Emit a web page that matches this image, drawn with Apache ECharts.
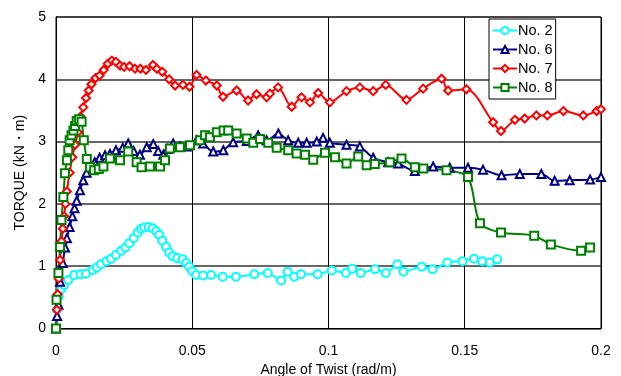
<!DOCTYPE html>
<html>
<head>
<meta charset="utf-8">
<script src="https://cdn.jsdelivr.net/npm/echarts@6/dist/echarts.min.js"></script>
<style>html,body{margin:0;padding:0;background:#fff}#c{width:621px;height:376px}</style>
</head>
<body>
<div id="c"></div>
<script>
const xTicks = [0, 0.05, 0.1, 0.15, 0.2];
const yTicks = [0, 1, 2, 3, 4, 5];
const seriesNames = ['No. 2', 'No. 6', 'No. 7', 'No. 8'];

const no2 = [[0,0],[0.0004,0.3],[0.001,0.52],[0.002,0.64],[0.003,0.7],[0.0045,0.78],[0.0067,0.86],[0.009,0.87],[0.011,0.88],[0.0135,0.94],[0.015,0.98],[0.0165,1.03],[0.0185,1.08],[0.0202,1.12],[0.022,1.18],[0.0239,1.25],[0.0255,1.3],[0.0269,1.37],[0.0285,1.45],[0.03,1.54],[0.0312,1.6],[0.0324,1.62],[0.034,1.63],[0.0355,1.61],[0.0368,1.56],[0.0379,1.50],[0.039,1.41],[0.0404,1.31],[0.0415,1.22],[0.0428,1.16],[0.0445,1.13],[0.0465,1.11],[0.0478,1.05],[0.0489,0.99],[0.05,0.92],[0.0514,0.86],[0.054,0.85],[0.0569,0.86],[0.0612,0.83],[0.066,0.83],[0.0728,0.87],[0.0777,0.89],[0.0826,0.77],[0.085,0.91],[0.0874,0.83],[0.0899,0.87],[0.096,0.87],[0.1012,0.93],[0.1064,0.89],[0.1087,0.96],[0.1118,0.89],[0.1171,0.95],[0.121,0.89],[0.1253,1.03],[0.1275,0.91],[0.1342,0.99],[0.1382,0.95],[0.1436,1.06],[0.1492,1.08],[0.1534,1.12],[0.1564,1.08],[0.1592,1.06],[0.1619,1.11]];

const no6 = [[0,0],[0.0004,0.2],[0.0009,0.38],[0.0015,0.75],[0.0025,1.05],[0.0033,1.3],[0.004,1.45],[0.005,1.63],[0.006,1.8],[0.0068,1.93],[0.0076,2.05],[0.0088,2.22],[0.01,2.38],[0.0112,2.5],[0.0125,2.59],[0.0142,2.67],[0.016,2.74],[0.018,2.78],[0.0198,2.8],[0.022,2.86],[0.0245,2.9],[0.0265,2.97],[0.0285,2.85],[0.0308,2.79],[0.0333,2.91],[0.0357,2.96],[0.0375,2.85],[0.0394,2.79],[0.041,2.88],[0.043,2.97],[0.0455,2.92],[0.048,2.92],[0.0516,3.02],[0.054,2.97],[0.0577,2.84],[0.0614,2.86],[0.065,2.99],[0.07,3.01],[0.0742,3.10],[0.0773,3.02],[0.0816,3.13],[0.0852,3.02],[0.0889,2.98],[0.092,2.98],[0.0957,3.0],[0.098,3.06],[0.1005,2.98],[0.1066,2.95],[0.1115,2.92],[0.1164,2.74],[0.1219,2.67],[0.1256,2.65],[0.1317,2.53],[0.1384,2.60],[0.1445,2.58],[0.1512,2.58],[0.1567,2.55],[0.1635,2.46],[0.1702,2.48],[0.1781,2.48],[0.183,2.37],[0.1885,2.38],[0.196,2.39],[0.2,2.43]];

const no7 = [[0,0],[0.0003,0.3],[0.0006,0.55],[0.001,0.8],[0.0015,1.1],[0.002,1.4],[0.0025,1.6],[0.003,1.8],[0.0035,2.0],[0.004,2.2],[0.005,2.5],[0.006,2.75],[0.007,2.95],[0.008,3.15],[0.009,3.4],[0.01,3.55],[0.011,3.7],[0.012,3.82],[0.013,3.92],[0.0145,4.02],[0.016,4.06],[0.0175,4.15],[0.019,4.25],[0.0205,4.30],[0.022,4.28],[0.0235,4.22],[0.025,4.2],[0.027,4.21],[0.029,4.17],[0.031,4.17],[0.033,4.15],[0.0356,4.23],[0.037,4.17],[0.039,4.12],[0.0415,4.0],[0.0437,3.90],[0.0466,3.91],[0.049,3.88],[0.0516,4.07],[0.055,3.98],[0.059,3.90],[0.0613,3.72],[0.0663,3.82],[0.0705,3.66],[0.0736,3.76],[0.0773,3.71],[0.0785,3.77],[0.0815,3.87],[0.0865,3.56],[0.0901,3.71],[0.0932,3.63],[0.0962,3.78],[0.1005,3.63],[0.1066,3.81],[0.1115,3.87],[0.1164,3.81],[0.121,3.91],[0.1286,3.67],[0.1347,3.85],[0.1415,4.01],[0.1439,3.82],[0.1506,3.84],[0.1604,3.31],[0.1633,3.17],[0.1684,3.35],[0.172,3.37],[0.1763,3.42],[0.1803,3.42],[0.1862,3.49],[0.1935,3.42],[0.1984,3.49],[0.2,3.52]];

const no8 = [[0,0],[0.0002,0.46],[0.0009,0.89],[0.0015,1.31],[0.002,1.74],[0.0027,2.11],[0.0033,2.49],[0.004,2.7],[0.0045,2.86],[0.005,3.02],[0.0057,3.1],[0.0064,3.18],[0.007,3.25],[0.0076,3.33],[0.0085,3.36],[0.0094,3.32],[0.0102,3.02],[0.0113,2.72],[0.0125,2.59],[0.014,2.54],[0.0157,2.56],[0.0174,2.6],[0.0198,2.73],[0.0235,2.70],[0.0265,2.84],[0.0296,2.67],[0.0314,2.59],[0.0345,2.6],[0.0382,2.6],[0.04,2.70],[0.0418,2.89],[0.0455,2.91],[0.0492,2.94],[0.0528,3.02],[0.0547,3.10],[0.0565,3.07],[0.059,3.15],[0.0615,3.18],[0.0632,3.18],[0.0663,3.13],[0.07,3.05],[0.0724,2.98],[0.0749,3.04],[0.0779,2.98],[0.081,2.90],[0.0852,2.86],[0.0883,2.81],[0.0914,2.79],[0.0944,2.71],[0.0987,2.82],[0.1024,2.75],[0.1066,2.65],[0.1109,2.76],[0.114,2.62],[0.117,2.64],[0.1225,2.67],[0.1268,2.73],[0.1317,2.59],[0.1348,2.57],[0.1433,2.54],[0.1512,2.43],[0.1556,1.69],[0.1633,1.54],[0.1755,1.49],[0.1816,1.35],[0.1927,1.25],[0.196,1.30]];

const colors = ['#00FFFF', '#000080', '#FF0000', '#008000'];
const symbols = ['emptyCircle', 'emptyTriangle', 'emptyDiamond', 'emptyRect'];
const datasets = [no2, no6, no7, no8];

const chart = echarts.init(document.getElementById('c'), null, {renderer: 'canvas'});
const font = 'Liberation Sans, Arial, sans-serif';
chart.setOption({
  animation: false,
  backgroundColor: '#fff',
  grid: {left: 56, right: 20, top: 17, bottom: 47.5, show: true, borderColor: '#000', borderWidth: 1, backgroundColor: '#fff', containLabel: false, outerBoundsMode: 'none'},
  legend: {
    orient: 'vertical', left: 489, top: 19,
    data: seriesNames,
    backgroundColor: '#fff', borderColor: '#000', borderWidth: 1,
    padding: [4, 3, 4, 3], itemGap: 4, itemWidth: 24, itemHeight: 9,
    textStyle: {fontFamily: font, fontSize: 14.5, color: '#000', padding: [0, 0, 0, -4]}
  },
  xAxis: {
    type: 'value', min: xTicks[0], max: xTicks[xTicks.length - 1], interval: 0.05,
    name: 'Angle of Twist (rad/m)', nameLocation: 'middle', nameGap: 33,
    nameTextStyle: {fontFamily: font, fontSize: 14, color: '#000'},
    axisLine: {lineStyle: {color: '#000', width: 1}},
    axisTick: {show: true, inside: true, length: 5, lineStyle: {color: '#000'}},
    axisLabel: {fontFamily: font, fontSize: 14, color: '#000', margin: 16},
    splitLine: {show: true, lineStyle: {color: '#000', width: 1}}
  },
  yAxis: {
    type: 'value', min: yTicks[0], max: yTicks[yTicks.length - 1], interval: 1,
    name: 'TORQUE (kN・m)', nameLocation: 'middle', nameGap: 27, nameRotate: 90,
    nameTextStyle: {fontFamily: font, fontSize: 14, color: '#000'},
    axisLine: {show: true, lineStyle: {color: '#000', width: 1}},
    axisTick: {show: false},
    axisLabel: {fontFamily: font, fontSize: 14, color: '#000', margin: 10},
    splitLine: {show: true, lineStyle: {color: '#333', width: 1.5}}
  },
  series: seriesNames.map((n, i) => ({
    name: n, type: 'line', data: datasets[i],
    smooth: 0.3, symbol: symbols[i], symbolSize: 8,
    showAllSymbol: true, clip: true,
    lineStyle: {color: colors[i], width: 2},
    itemStyle: {color: colors[i], borderWidth: 1},
    emphasis: {disabled: true}
  }))
});
</script>
</body>
</html>
